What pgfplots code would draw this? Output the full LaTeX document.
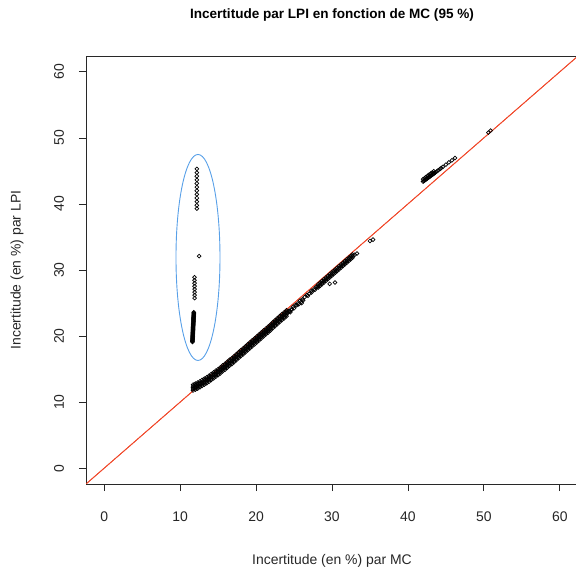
\documentclass[border=0pt]{standalone}
\usepackage{pgfplots}
\usepackage{pgfplotstable}
\pgfplotsset{compat=1.18}
\usepackage{fontspec}
\setmainfont{Liberation Sans}
\definecolor{lineRed}{RGB}{240,72,42}
\definecolor{ellBlue}{RGB}{88,160,232}
\definecolor{axGray}{RGB}{40,40,40}

% main band MC 11.7 - 24.0
\pgfplotstableread{
x lo q1 mid q2 hi
11.7 11.75 11.98 12.20 12.42 12.65
12.0 11.90 12.13 12.35 12.57 12.80
12.3 12.05 12.28 12.50 12.72 12.95
12.6 12.25 12.48 12.70 12.92 13.15
12.9 12.45 12.68 12.90 13.12 13.35
13.2 12.65 12.88 13.10 13.32 13.55
13.5 12.85 13.08 13.30 13.52 13.75
13.8 13.10 13.33 13.55 13.77 14.00
14.1 13.35 13.58 13.80 14.02 14.25
14.4 13.60 13.83 14.05 14.27 14.50
14.7 13.85 14.08 14.30 14.52 14.75
15.0 14.10 14.33 14.55 14.77 15.00
15.3 14.35 14.58 14.80 15.02 15.25
15.6 14.65 14.88 15.10 15.32 15.55
15.9 14.90 15.13 15.35 15.57 15.80
16.2 15.20 15.43 15.65 15.87 16.10
16.5 15.50 15.73 15.95 16.17 16.40
16.8 15.75 15.98 16.20 16.42 16.65
17.1 16.05 16.28 16.50 16.72 16.95
17.4 16.35 16.58 16.80 17.02 17.25
17.7 16.65 16.88 17.10 17.32 17.55
18.0 16.95 17.18 17.40 17.62 17.85
18.3 17.25 17.48 17.70 17.92 18.15
18.6 17.55 17.78 18.00 18.22 18.45
18.9 17.85 18.08 18.30 18.52 18.75
19.2 18.15 18.38 18.60 18.82 19.05
19.5 18.45 18.68 18.90 19.12 19.35
19.8 18.75 18.98 19.20 19.42 19.65
20.1 19.05 19.28 19.50 19.72 19.95
20.4 19.35 19.58 19.80 20.02 20.25
20.7 19.65 19.88 20.10 20.32 20.55
21.0 19.95 20.18 20.40 20.62 20.85
21.3 20.25 20.48 20.70 20.92 21.15
21.6 20.55 20.78 21.00 21.22 21.45
21.9 20.85 21.08 21.30 21.52 21.75
22.2 21.20 21.43 21.65 21.87 22.10
22.5 21.50 21.73 21.95 22.17 22.40
22.8 21.80 22.03 22.25 22.47 22.70
23.1 22.10 22.33 22.55 22.77 23.00
23.4 22.40 22.63 22.85 23.07 23.30
23.7 22.70 22.93 23.15 23.37 23.60
24.0 23.00 23.23 23.45 23.67 23.90
}\bandA

% sparser part MC 24 - 28
\pgfplotstableread{
x y
24.15 23.55
24.30 23.80
24.45 23.75
24.50 23.60
24.60 24.00
24.75 24.05
24.90 24.45
25.00 24.20
25.20 24.70
25.35 24.65
25.50 24.95
25.60 24.80
25.80 25.35
25.95 25.20
26.10 25.55
26.20 25.40
26.40 25.90
26.70 26.20
26.85 26.10
27.00 26.45
27.30 26.85
27.30 26.60
27.60 27.05
27.75 27.00
27.90 27.45
28.05 27.40
}\bandB

% MC 28.2 - 32.7
\pgfplotstableread{
x lo mid hi
28.20 27.35 27.60 27.85
28.45 27.60 27.85 28.10
28.70 27.85 28.10 28.35
28.95 28.10 28.35 28.60
29.20 28.35 28.60 28.85
29.45 28.60 28.85 29.10
29.70 28.85 29.10 29.35
29.95 29.10 29.35 29.60
30.20 29.35 29.60 29.85
30.45 29.60 29.85 30.10
30.70 29.85 30.10 30.35
30.95 30.10 30.35 30.60
31.20 30.35 30.60 30.85
31.45 30.60 30.85 31.10
31.70 30.85 31.10 31.35
31.95 31.10 31.35 31.60
32.20 31.35 31.60 31.85
32.45 31.60 31.85 32.10
32.70 31.85 32.10 32.35
}\bandC

% isolated points and upper cluster
\pgfplotstableread{
x y
33.0 32.30
33.3 32.50
35.0 34.40
35.4 34.60
29.7 27.90
30.4 28.10
26.0 25.00
50.6 50.80
50.9 51.10
42.0 43.40
42.1 43.48
42.2 43.57
42.3 43.65
42.4 43.74
42.5 43.82
42.6 43.91
42.7 44.00
42.8 44.08
42.9 44.16
43.0 44.25
43.1 44.33
43.2 44.42
43.3 44.50
43.4 44.59
43.5 44.67
43.6 44.76
43.8 44.93
44.0 45.10
44.2 45.27
44.4 45.44
44.6 45.61
42.0 43.75
42.2 43.92
42.4 44.09
42.6 44.26
42.8 44.43
43.0 44.60
43.2 44.77
43.4 44.94
45.0 45.95
45.4 46.30
45.8 46.60
46.2 46.95
}\others

% circled outliers
\pgfplotstableread{
x y
12.2 45.30
12.2 44.75
12.2 44.20
12.2 43.65
12.2 43.10
12.2 42.55
12.2 42.00
12.2 41.45
12.2 40.90
12.2 40.35
12.2 39.80
12.2 39.30
12.5 32.10
11.9 28.90
11.9 28.45
11.9 28.00
11.9 27.55
11.9 27.10
11.9 26.65
11.9 26.20
11.9 25.75
11.80 23.60
11.80 23.50
11.80 23.40
11.79 23.30
11.79 23.20
11.78 23.10
11.78 23.00
11.77 22.90
11.77 22.80
11.76 22.70
11.76 22.60
11.75 22.50
11.75 22.40
11.75 22.30
11.75 22.20
11.74 22.10
11.74 22.00
11.73 21.90
11.73 21.80
11.72 21.70
11.72 21.60
11.71 21.50
11.71 21.40
11.70 21.30
11.70 21.20
11.70 21.10
11.70 21.00
11.69 20.90
11.69 20.80
11.68 20.70
11.68 20.60
11.67 20.50
11.67 20.40
11.66 20.30
11.66 20.20
11.65 20.10
11.65 20.00
11.65 19.90
11.65 19.80
11.64 19.70
11.64 19.60
11.63 19.50
11.63 19.40
11.62 19.30
11.62 19.20
11.62 19.10
}\outl

\begin{document}
\begin{tikzpicture}
\useasboundingbox (0,0) rectangle (576bp,569bp);
\begin{axis}[
  at={(86bp,85bp)}, anchor=south west,
  scale only axis, width=492bp, height=428bp,
  xmin=-2.4, xmax=62.4, ymin=-2.4, ymax=62.4,
  xtick={0,10,...,60}, ytick={0,10,...,60},
  tick align=outside, xtick pos=bottom, ytick pos=left,
  major tick length=7bp,
  axis line style={axGray, line width=0.8bp},
  every tick/.style={axGray, line width=0.8bp},
  /pgf/number format/assume math mode=true,
  ticklabel style={font=\fontsize{14}{16}\selectfont, text=black!85},
  xticklabel style={anchor=center, yshift=-26bp},
  yticklabel style={rotate=90, anchor=center, yshift=20bp},
  xlabel={Incertitude (en \%) par MC},
  ylabel={Incertitude (en \%) par LPI},
  label style={font=\fontsize{14}{16}\selectfont, text=black!85},
  xlabel style={at={(axis description cs:0.5,0)}, anchor=center, yshift=-77bp},
  ylabel style={at={(axis description cs:0,0.5)}, anchor=center, yshift=69bp},
  title={Incertitude par LPI en fonction de MC (95 \%)},
  title style={at={(axis description cs:0.5,1)}, anchor=center, yshift=35bp, font=\bfseries\fontsize{13.6}{15}\selectfont},
  pts/.style={only marks, mark=o, mark size=1.9bp, mark options={line width=0.7bp, draw=black, fill=none}},
]
\addplot[no marks, draw=lineRed, line width=0.8bp, sharp plot] coordinates {(-2.4,-2.4) (62.4,62.4)};
\addplot[pts] table[x=x, y=lo] {\bandA};
\addplot[pts] table[x=x, y=q1] {\bandA};
\addplot[pts] table[x=x, y=mid] {\bandA};
\addplot[pts] table[x=x, y=q2] {\bandA};
\addplot[pts] table[x=x, y=hi] {\bandA};
\addplot[pts] table[x=x, y=y] {\bandB};
\addplot[pts] table[x=x, y=lo] {\bandC};
\addplot[pts] table[x=x, y=mid] {\bandC};
\addplot[pts] table[x=x, y=hi] {\bandC};
\addplot[pts] table[x=x, y=y] {\others};
\addplot[pts] table[x=x, y=y] {\outl};
\addplot[no marks, draw=lineRed, line width=0.8bp, sharp plot] coordinates {(-2.4,-2.4) (62.4,62.4)};
\draw[ellBlue, line width=0.9bp] (axis cs:12.35,31.9) ellipse [x radius=22bp, y radius=103bp];
\end{axis}
\end{tikzpicture}
\end{document}
